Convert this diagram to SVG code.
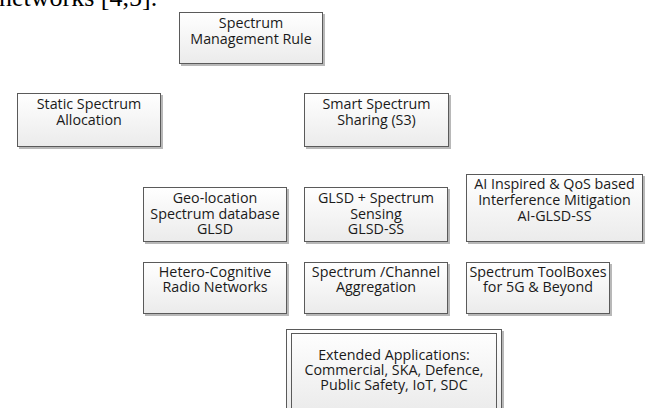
<svg xmlns="http://www.w3.org/2000/svg" width="649" height="408" viewBox="0 0 649 408">
<defs>
<linearGradient id="g" x1="0" y1="0" x2="0" y2="1">
<stop offset="0" stop-color="#ffffff"/>
<stop offset="1" stop-color="#ebebeb"/>
</linearGradient>
<style>
.b{fill:url(#g);stroke:#5a5a5a;stroke-width:1}
.s{fill:#b8b8b8}
.t{font-family:"Open Sans","Liberation Sans",sans-serif;font-size:14.3px;fill:#1a1a1a;text-anchor:middle}
.h{font-family:"Liberation Serif","Times New Roman",serif;font-size:26px;fill:#000}
</style>
</defs>
<rect width="649" height="408" fill="#fff"/>
<text class="h" x="-1" y="6">networks [4,5].</text>
<g id="n-smr">
<rect class="s" x="181" y="14" width="144" height="52"/>
<rect class="b" x="179.5" y="12.5" width="143" height="51"/>
<text class="t" x="251" y="28">Spectrum</text>
<text class="t" x="251" y="44">Management Rule</text>
</g>
<g id="n-ssa">
<rect class="s" x="19" y="95" width="144" height="54"/>
<rect class="b" x="17.5" y="93.5" width="143" height="53"/>
<text class="t" x="89" y="109">Static Spectrum</text>
<text class="t" x="89" y="125">Allocation</text>
</g>
<g id="n-s3">
<rect class="s" x="306" y="95" width="145" height="54"/>
<rect class="b" x="304.5" y="93.5" width="144" height="53"/>
<text class="t" x="376.5" y="109">Smart Spectrum</text>
<text class="t" x="376.5" y="125">Sharing (S3)</text>
</g>
<g id="n-glsd">
<rect class="s" x="145" y="189" width="144" height="55"/>
<rect class="b" x="143.5" y="187.5" width="143" height="54"/>
<text class="t" x="215" y="203">Geo-location</text>
<text class="t" x="215" y="218.5">Spectrum database</text>
<text class="t" x="215" y="234">GLSD</text>
</g>
<g id="n-glsdss">
<rect class="s" x="306" y="189" width="144" height="55"/>
<rect class="b" x="304.5" y="187.5" width="143" height="54"/>
<text class="t" x="376" y="203">GLSD + Spectrum</text>
<text class="t" x="376" y="218.5">Sensing</text>
<text class="t" x="376" y="234">GLSD-SS</text>
</g>
<g id="n-ai">
<rect class="s" x="468" y="176" width="177" height="68"/>
<rect class="b" x="466.5" y="174.5" width="176" height="67"/>
<text class="t" x="554.5" y="189">AI Inspired &amp; QoS based</text>
<text class="t" x="554.5" y="205">Interference Mitigation</text>
<text class="t" x="554.5" y="220.5">AI-GLSD-SS</text>
</g>
<g id="n-hcrn">
<rect class="s" x="145" y="264" width="144" height="52"/>
<rect class="b" x="143.5" y="262.5" width="143" height="51"/>
<text class="t" x="215" y="277">Hetero-Cognitive</text>
<text class="t" x="215" y="292">Radio Networks</text>
</g>
<g id="n-sca">
<rect class="s" x="306" y="264" width="144" height="52"/>
<rect class="b" x="304.5" y="262.5" width="143" height="51"/>
<text class="t" x="376" y="277">Spectrum /Channel</text>
<text class="t" x="376" y="292">Aggregation</text>
</g>
<g id="n-stb">
<rect class="s" x="468" y="264" width="144" height="52"/>
<rect class="b" x="466.5" y="262.5" width="143" height="51"/>
<text class="t" x="538" y="277">Spectrum ToolBoxes</text>
<text class="t" x="538" y="292">for 5G &amp; Beyond</text>
</g>
<g id="n-ext">
<rect class="s" x="288" y="331" width="216" height="80"/>
<rect class="b" x="286.5" y="329.5" width="215" height="82"/>
<rect x="291.5" y="333.5" width="205" height="80" fill="none" stroke="#5a5a5a" stroke-width="1"/>
<text class="t" x="394" y="360">Extended Applications:</text>
<text class="t" x="394" y="375">Commercial, SKA, Defence,</text>
<text class="t" x="394" y="390">Public Safety, IoT, SDC</text>
</g>
<g id="connectors"></g>
</svg>
